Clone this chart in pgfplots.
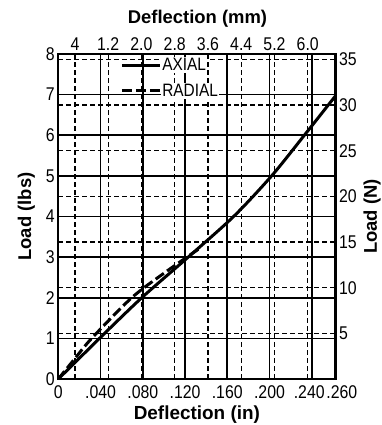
\documentclass[border=0pt]{standalone}
\usepackage{pgfplots}
\pgfplotsset{compat=1.18}
\usepackage{fontspec}
\setmainfont{Liberation Sans}
\newfontfamily\condf[FakeStretch=0.86]{Liberation Sans}
\begin{document}
\begin{tikzpicture}
\path[use as bounding box] (-58.3bp,-46bp) rectangle (323.7bp,379bp);
% secondary axis: mm (top) and N (right), dashed grid
\begin{axis}[
  scale only axis, width=277.2bp, height=325bp,
  at={(0,0)}, anchor=south west,
  xmin=0, xmax=6.6675, ymin=0, ymax=35.584,
  axis x line*=top, axis y line*=right,
  axis line style={draw=none},
  major tick length=0pt,
  xtick={0.4,1.2,2.0,2.8,3.6,4.4,5.2,6.0},
  xticklabels={4,1.2,2.0,2.8,3.6,4.4,5.2,6.0},
  ytick={5,10,15,20,25,30,35},
  xmajorgrids, ymajorgrids,
  major grid style={black, line width=1.3bp, dash pattern=on 5bp off 3bp},
  ticklabel style={font=\condf\fontsize{18.5}{18.5}\selectfont},
  /pgf/number format/assume math mode=true,
  xlabel={\bfseries Deflection (mm)},
  ylabel={\bfseries Load (N)},
  every axis x label/.style={at={(axis description cs:0.502,1.108)}, anchor=center, font=\fontsize{18.5}{18.5}\selectfont},
  every axis y label/.style={at={(axis description cs:1.132,0.5)}, rotate=90, anchor=center, font=\fontsize{18.5}{18.5}\selectfont},
]
\addplot[draw=none] coordinates {(0,0)};
\end{axis}
% main axis: inches and lbs
\begin{axis}[
  scale only axis, width=277.2bp, height=325bp,
  at={(0,0)}, anchor=south west,
  xmin=0, xmax=0.2625, ymin=0, ymax=8,
  axis line style={line width=2.2bp},
  major tick length=0pt,
  xtick={0,0.04,0.08,0.12,0.16,0.2,0.24},
  xticklabels={0,.040,.080,.120,.160,.200,{\hspace*{-5bp}.240}},
  extra x ticks={0.26}, extra x tick labels={.260},
  extra x tick style={grid=none, xticklabel style={xshift=9bp}},
  ytick={0,1,2,3,4,5,6,7,8},
  grid=major,
  major grid style={black, line width=1.6bp},
  ticklabel style={font=\condf\fontsize{18.5}{18.5}\selectfont},
  xticklabel style={yshift=-3bp},
  /pgf/number format/assume math mode=true,
  xlabel={\bfseries Deflection (in)},
  ylabel={\bfseries Load (lbs)},
  every axis x label/.style={at={(axis description cs:0.5,-0.111)}, anchor=center, font=\fontsize{19}{19}\selectfont},
  every axis y label/.style={at={(axis description cs:-0.1155,0.5)}, rotate=90, anchor=center, font=\fontsize{18.5}{18.5}\selectfont},
  legend style={at={(axis description cs:0.212,0.997)}, anchor=north west, draw=none, fill=none,
    font=\condf\fontsize{18}{18}\selectfont, nodes={fill=white, inner sep=1bp}, row sep=10bp},
  legend cell align=left,
  legend image code/.code={\draw[#1] (0bp,0bp) -- (38bp,0bp);},
]
\addplot[black, line width=3bp, smooth] coordinates {
  (0,0) (0.0195,0.5) (0.039,1) (0.079,2) (0.123,3) (0.166,4) (0.202,5) (0.233,6) (0.2625,6.97)
};
\addplot[black, line width=3bp, dash pattern=on 10bp off 4bp, smooth] coordinates {
  (0,0) (0.015,0.48) (0.0316,1) (0.0695,2) (0.102,2.64) (0.133,3.2)
};
\legend{AXIAL,RADIAL}
\end{axis}
\end{tikzpicture}
\end{document}
